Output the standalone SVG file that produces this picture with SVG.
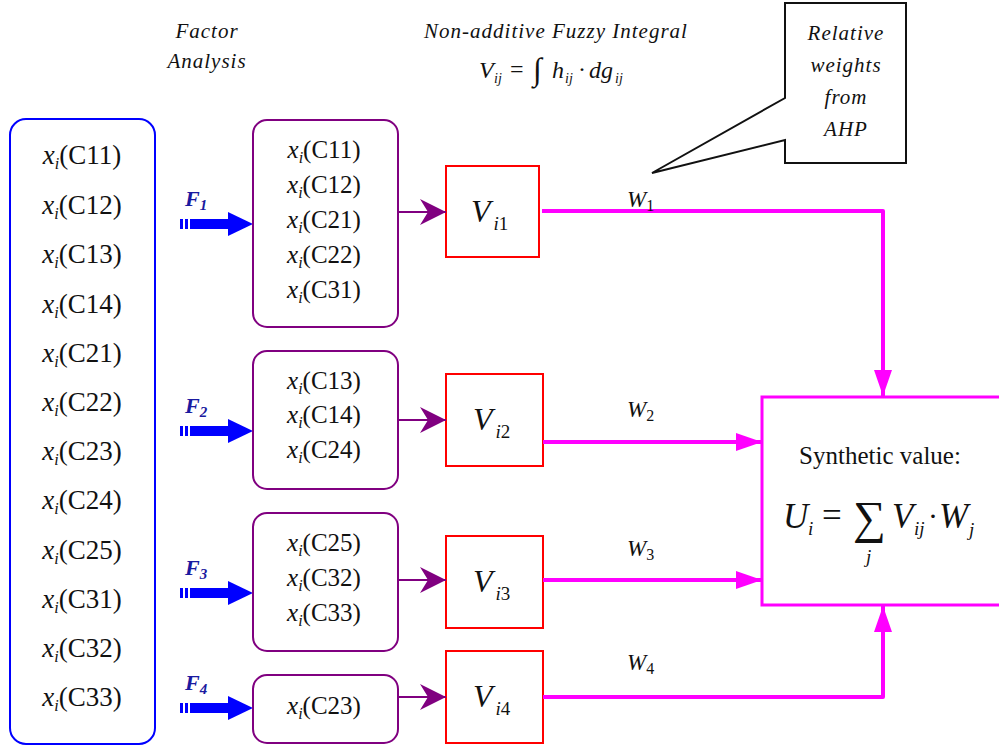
<svg xmlns="http://www.w3.org/2000/svg" width="999" height="746" viewBox="0 0 999 746">
<defs>
<style>
text{font-family:"Liberation Serif","Times New Roman",serif}
.t{fill:#111}
.it{font-style:italic}
.x{font-size:27px}
.xs{font-size:25px}
.sb{font-style:italic;font-size:16px}
.lbl{font-style:italic;font-size:21px;fill:#111;text-anchor:middle;letter-spacing:1px}
.F{font-style:italic;font-weight:bold;font-size:22px;fill:#1a1aa0}
.mag{stroke:#ff00ff;stroke-width:4;fill:none}
.pur{stroke:#800080;stroke-width:2;fill:none}
.red{fill:none;stroke:#ff0000;stroke-width:2}
</style>
<marker id="pa" markerWidth="28" markerHeight="28" refX="26" refY="13" orient="auto" markerUnits="userSpaceOnUse">
<path d="M0,0 L26,13 L0,26 L8,13 Z" fill="#800080"/>
</marker>
<marker id="ma" markerWidth="28" markerHeight="20" refX="26" refY="9" orient="auto" markerUnits="userSpaceOnUse">
<path d="M0,0 L26,9 L0,18 Z" fill="#ff00ff"/>
</marker>
<g id="farrow">
<rect x="0" y="-5" width="3" height="10" fill="#0000ff"/>
<rect x="5" y="-5" width="3" height="10" fill="#0000ff"/>
<rect x="10" y="-5" width="40" height="10" fill="#0000ff"/>
<path d="M48,-12 L73,0 L48,12 Z" fill="#0000ff"/>
</g>
</defs>
<rect width="999" height="746" fill="#fff"/>

<g id="titles">
<text class="lbl" x="207" y="38">Factor</text>
<text class="lbl" x="207" y="68">Analysis</text>
<text class="lbl" x="556" y="38">Non-additive Fuzzy Integral</text>
<g class="t it">
<text x="479" y="78" font-size="24">V</text>
<text x="494" y="83" font-size="14">ij</text>
<text x="510" y="77" font-size="24" font-style="normal">=</text>
<text x="533" y="80" font-size="32" font-style="normal">∫</text>
<text x="552" y="78" font-size="24">h</text>
<text x="565" y="83" font-size="14">ij</text>
<text x="578" y="77" font-size="24" font-style="normal">·</text>
<text x="589" y="78" font-size="24">dg</text>
<text x="615" y="83" font-size="14">ij</text>
</g>
</g>

<g id="callout">
<path d="M785,3 H906 V163 H785 V140 L652,173 L785,98 Z" fill="#fff" stroke="#111" stroke-width="2"/>
<text class="lbl" x="846" y="40">Relative</text>
<text class="lbl" x="846" y="72">weights</text>
<text class="lbl" x="846" y="104">from</text>
<text class="lbl" x="846" y="136">AHP</text>
</g>

<g id="left-list">
<rect x="10" y="119" width="145" height="625" rx="16" fill="none" stroke="#0000ff" stroke-width="2"/>
<g class="t x" text-anchor="middle">
<text x="82" y="164"><tspan class="it">x</tspan><tspan class="sb" dy="5">i</tspan><tspan dy="-5">(C11)</tspan></text>
<text x="82" y="214"><tspan class="it">x</tspan><tspan class="sb" dy="5">i</tspan><tspan dy="-5">(C12)</tspan></text>
<text x="82" y="263"><tspan class="it">x</tspan><tspan class="sb" dy="5">i</tspan><tspan dy="-5">(C13)</tspan></text>
<text x="82" y="313"><tspan class="it">x</tspan><tspan class="sb" dy="5">i</tspan><tspan dy="-5">(C14)</tspan></text>
<text x="82" y="362"><tspan class="it">x</tspan><tspan class="sb" dy="5">i</tspan><tspan dy="-5">(C21)</tspan></text>
<text x="82" y="411"><tspan class="it">x</tspan><tspan class="sb" dy="5">i</tspan><tspan dy="-5">(C22)</tspan></text>
<text x="82" y="460"><tspan class="it">x</tspan><tspan class="sb" dy="5">i</tspan><tspan dy="-5">(C23)</tspan></text>
<text x="82" y="509"><tspan class="it">x</tspan><tspan class="sb" dy="5">i</tspan><tspan dy="-5">(C24)</tspan></text>
<text x="82" y="559"><tspan class="it">x</tspan><tspan class="sb" dy="5">i</tspan><tspan dy="-5">(C25)</tspan></text>
<text x="82" y="608"><tspan class="it">x</tspan><tspan class="sb" dy="5">i</tspan><tspan dy="-5">(C31)</tspan></text>
<text x="82" y="657"><tspan class="it">x</tspan><tspan class="sb" dy="5">i</tspan><tspan dy="-5">(C32)</tspan></text>
<text x="82" y="706"><tspan class="it">x</tspan><tspan class="sb" dy="5">i</tspan><tspan dy="-5">(C33)</tspan></text>
</g>
</g>

<g id="factor-arrows">
<use href="#farrow" x="180" y="224"/>
<use href="#farrow" x="180" y="431"/>
<use href="#farrow" x="180" y="593"/>
<use href="#farrow" x="180" y="708"/>
<text class="F" x="185" y="206">F<tspan font-size="15" dy="4">1</tspan></text>
<text class="F" x="185" y="413">F<tspan font-size="15" dy="4">2</tspan></text>
<text class="F" x="185" y="575">F<tspan font-size="15" dy="4">3</tspan></text>
<text class="F" x="185" y="690">F<tspan font-size="15" dy="4">4</tspan></text>
</g>

<g id="group1">
<rect x="253" y="120" width="145" height="207" rx="14" class="pur"/>
<g class="t xs" text-anchor="middle">
<text x="324" y="158"><tspan class="it">x</tspan><tspan class="sb" dy="5">i</tspan><tspan dy="-5">(C11)</tspan></text>
<text x="324" y="193"><tspan class="it">x</tspan><tspan class="sb" dy="5">i</tspan><tspan dy="-5">(C12)</tspan></text>
<text x="324" y="228"><tspan class="it">x</tspan><tspan class="sb" dy="5">i</tspan><tspan dy="-5">(C21)</tspan></text>
<text x="324" y="263"><tspan class="it">x</tspan><tspan class="sb" dy="5">i</tspan><tspan dy="-5">(C22)</tspan></text>
<text x="324" y="298"><tspan class="it">x</tspan><tspan class="sb" dy="5">i</tspan><tspan dy="-5">(C31)</tspan></text>
</g>
</g>
<g id="group2">
<rect x="253" y="351" width="145" height="138" rx="14" class="pur"/>
<g class="t xs" text-anchor="middle">
<text x="324" y="389"><tspan class="it">x</tspan><tspan class="sb" dy="5">i</tspan><tspan dy="-5">(C13)</tspan></text>
<text x="324" y="423"><tspan class="it">x</tspan><tspan class="sb" dy="5">i</tspan><tspan dy="-5">(C14)</tspan></text>
<text x="324" y="458"><tspan class="it">x</tspan><tspan class="sb" dy="5">i</tspan><tspan dy="-5">(C24)</tspan></text>
</g>
</g>
<g id="group3">
<rect x="253" y="513" width="145" height="138" rx="14" class="pur"/>
<g class="t xs" text-anchor="middle">
<text x="324" y="551"><tspan class="it">x</tspan><tspan class="sb" dy="5">i</tspan><tspan dy="-5">(C25)</tspan></text>
<text x="324" y="586"><tspan class="it">x</tspan><tspan class="sb" dy="5">i</tspan><tspan dy="-5">(C32)</tspan></text>
<text x="324" y="621"><tspan class="it">x</tspan><tspan class="sb" dy="5">i</tspan><tspan dy="-5">(C33)</tspan></text>
</g>
</g>
<g id="group4">
<rect x="253" y="675" width="145" height="68" rx="14" class="pur"/>
<g class="t xs" text-anchor="middle">
<text x="324" y="714"><tspan class="it">x</tspan><tspan class="sb" dy="5">i</tspan><tspan dy="-5">(C23)</tspan></text>
</g>
</g>

<g id="V1">
<rect x="446" y="166" width="93" height="91" class="red"/>
<text class="t it" x="471" y="222" font-size="32">V<tspan font-size="19" dy="8" dx="3">i</tspan><tspan font-style="normal" font-size="19">1</tspan></text>
</g>
<g id="V2">
<rect x="446" y="374" width="97" height="92" class="red"/>
<text class="t it" x="473" y="430" font-size="32">V<tspan font-size="19" dy="8" dx="3">i</tspan><tspan font-style="normal" font-size="19">2</tspan></text>
</g>
<g id="V3">
<rect x="446" y="536" width="97" height="92" class="red"/>
<text class="t it" x="473" y="592" font-size="32">V<tspan font-size="19" dy="8" dx="3">i</tspan><tspan font-style="normal" font-size="19">3</tspan></text>
</g>
<g id="V4">
<rect x="446" y="651" width="97" height="92" class="red"/>
<text class="t it" x="473" y="707" font-size="32">V<tspan font-size="19" dy="8" dx="3">i</tspan><tspan font-style="normal" font-size="19">4</tspan></text>
</g>

<g id="synthetic">
<rect x="762" y="397" width="250" height="208" fill="none" stroke="#ff00ff" stroke-width="3"/>
<text class="t" x="880" y="464" font-size="25" text-anchor="middle">Synthetic value:</text>
<g class="t it">
<text x="783" y="528" font-size="35">U</text>
<text x="808" y="535" font-size="19">i</text>
<text x="822" y="527" font-size="35" font-style="normal">=</text>
<text x="853" y="533" font-size="46" font-style="normal">∑</text>
<text x="866" y="563" font-size="19">j</text>
<text x="892" y="528" font-size="35">V</text>
<text x="914" y="535" font-size="19">ij</text>
<text x="928" y="526" font-size="30" font-style="normal">·</text>
<text x="939" y="528" font-size="35">W</text>
<text x="969" y="536" font-size="19">j</text>
</g>
</g>

<g id="connectors">
<line x1="398" y1="212" x2="446" y2="212" class="pur" marker-end="url(#pa)"/>
<line x1="398" y1="420" x2="446" y2="420" class="pur" marker-end="url(#pa)"/>
<line x1="398" y1="580" x2="446" y2="580" class="pur" marker-end="url(#pa)"/>
<line x1="398" y1="697" x2="446" y2="697" class="pur" marker-end="url(#pa)"/>
<polyline points="542,211 883,211 883,396" class="mag" stroke-linejoin="round" marker-end="url(#ma)"/>
<line x1="543" y1="442" x2="762" y2="442" class="mag" marker-end="url(#ma)"/>
<line x1="543" y1="580" x2="762" y2="580" class="mag" marker-end="url(#ma)"/>
<polyline points="543,697 883,697 883,606" class="mag" stroke-linejoin="round" marker-end="url(#ma)"/>
<g class="t it" font-size="23">
<text x="627" y="207">W<tspan font-style="normal" font-size="16" dy="4">1</tspan></text>
<text x="627" y="417">W<tspan font-style="normal" font-size="16" dy="4">2</tspan></text>
<text x="627" y="556">W<tspan font-style="normal" font-size="16" dy="4">3</tspan></text>
<text x="627" y="670">W<tspan font-style="normal" font-size="16" dy="4">4</tspan></text>
</g>
</g>
</svg>
